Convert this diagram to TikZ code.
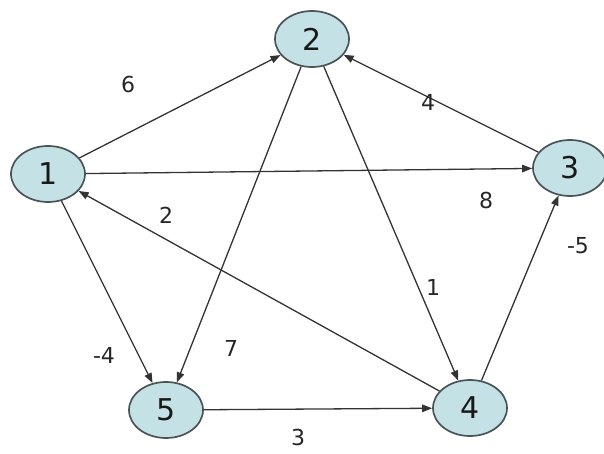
\documentclass[tikz,border=0pt]{standalone}
\usepackage{fontspec}
\setmainfont{DejaVu Sans}
\usetikzlibrary{shapes.geometric,arrows.meta}
\definecolor{nodefill}{HTML}{C4E2E6}
\definecolor{nodeline}{HTML}{4A5456}
\definecolor{edgecol}{HTML}{333333}
\tikzset{
  vert/.style={ellipse, draw=nodeline, line width=1.7pt, fill=nodefill, minimum width=74pt, minimum height=56pt, inner sep=0pt, font=\fontsize{30}{30}\selectfont, text=black!90},
  edge/.style={draw=edgecol, line width=1.3pt, -{Triangle[length=10pt,width=7.5pt]}},
  wlab/.style={font=\fontsize{22}{22}\selectfont, text=black!85}
}
\begin{document}
\begin{tikzpicture}[x=1pt,y=-1pt]
\useasboundingbox (0,0) rectangle (604,454);
\node[vert] (n1) at (48,174) {1};
\node[vert] (n2) at (312,39) {2};
\node[vert] (n3) at (570,168) {3};
\node[vert] (n4) at (470,408) {4};
\node[vert] (n5) at (166,410) {5};
\draw[edge] (n1) -- (n2);
\draw[edge] (n2) -- (n5);
\draw[edge] (n2) -- (n4);
\draw[edge] (n3) -- (n2);
\draw[edge] (n1) -- (n3);
\draw[edge] (n4) -- (n1);
\draw[edge] (n1) -- (n5);
\draw[edge] (n4) -- (n3);
\draw[edge] (n5) -- (n4);
\node[wlab] (l6) at (128,84) {6};
\node[wlab] (l4) at (428,102) {4};
\node[wlab] (l8) at (486,200) {8};
\node[wlab] (l2) at (166,215) {2};
\node[wlab] (l5) at (578,246) {-5};
\node[wlab] (l1) at (433,287) {1};
\node[wlab] (l4b) at (104,355) {-4};
\node[wlab] (l7) at (231,348) {7};
\node[wlab] (l3) at (298,437) {3};
\end{tikzpicture}
\end{document}
